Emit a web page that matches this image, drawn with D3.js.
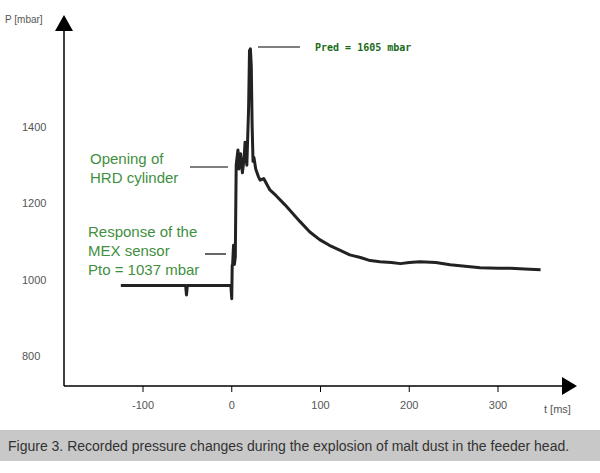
<!DOCTYPE html><html><head><meta charset="utf-8"><script src="https://cdn.jsdelivr.net/npm/d3@7"></script>
<style>body{margin:0;background:#fff}text{font-family:Arial,"Liberation Sans",sans-serif}</style></head><body>
<svg width="600" height="473"></svg>
<script>
const xTicks=[-100,0,100,200,300];
const yTicks=[800,1000,1200,1400];
const tVals=[-125,-52,-51,-50,-49,-48,-1,0,0.5,1,2,3,4,5,6,7,8,10,12,14,15,17,19,20,21,22,23,24,25,27,30,32,36,43,50,60,70,77,88,99,110,121,133,145,156,167,180,190,200,212,230,246,263,280,300,314,330,348];
const pVals=[985,985,960,985,985,985,985,950,1037,1040,1090,1040,1060,1300,1320,1340,1290,1330,1280,1320,1360,1300,1450,1600,1605,1560,1400,1310,1320,1290,1270,1261,1265,1235,1220,1196,1170,1152,1125,1105,1090,1078,1065,1058,1050,1047,1045,1042,1045,1047,1045,1039,1035,1031,1030,1030,1028,1026];
const svg=d3.select("svg");
const x=d3.scaleLinear().domain([-100,300]).range([143,498]);
const y=d3.scaleLinear().domain([800,1400]).range([356,127]);
svg.append("line").attr("x1",64).attr("x2",565).attr("y1",386).attr("y2",386).attr("stroke","#000").attr("stroke-width",1.5);
svg.append("path").attr("d","M562,377L577,386L562,395Z");
svg.append("line").attr("x1",64).attr("x2",64).attr("y1",386).attr("y2",28).attr("stroke","#000").attr("stroke-width",1.5);
svg.append("path").attr("d","M55,31L64,15L73,31Z");
xTicks.forEach(t=>{svg.append("line").attr("x1",x(t)).attr("x2",x(t)).attr("y1",386).attr("y2",392).attr("stroke","#000");
 svg.append("text").attr("x",x(t)).attr("y",409).attr("text-anchor","middle").attr("font-size",11).attr("fill","#555").text(t);});
yTicks.forEach(v=>svg.append("text").attr("x",22).attr("y",y(v)+4).attr("font-size",11).attr("fill","#555").text(v));
svg.append("text").attr("x",544).attr("y",413).attr("font-size",11).attr("fill","#555").text("t [ms]");
svg.append("text").attr("x",5).attr("y",23).attr("font-size",10).attr("fill","#555").text("P [mbar]");
const data=tVals.map((t,i)=>[t,pVals[i]]);
svg.append("path").datum(data).attr("d",d3.line().x(d=>x(d[0])).y(d=>y(d[1]))).attr("fill","none").attr("stroke","#222").attr("stroke-width",3).attr("stroke-linejoin","round");
const ann=(x1,x2,yy)=>svg.append("line").attr("x1",x1).attr("x2",x2).attr("y1",yy).attr("y2",yy).attr("stroke","#000").attr("stroke-width",1.2);
ann(258,300,47);ann(190,228,167);ann(205,226,254);
svg.append("text").attr("x",315).attr("y",51).attr("font-size",10).attr("font-weight","bold").style("font-family","'DejaVu Sans Mono', monospace").attr("fill","#1a6b1a").text("Pred = 1605 mbar");
[["Opening of",164],["HRD cylinder",183]].forEach(([s,yy])=>svg.append("text").attr("x",90).attr("y",yy).attr("font-size",15).attr("fill","#3f8f3f").text(s));
[["Response of the",237],["MEX sensor",256],["Pto = 1037 mbar",275]].forEach(([s,yy])=>svg.append("text").attr("x",88).attr("y",yy).attr("font-size",15).attr("fill","#3f8f3f").text(s));
svg.append("rect").attr("x",0).attr("y",430).attr("width",600).attr("height",31).attr("fill","#c8c8c8");
svg.append("text").attr("x",8).attr("y",451).attr("font-size",14).attr("fill","#333").text("Figure 3. Recorded pressure changes during the explosion of malt dust in the feeder head.");
</script></body></html>
